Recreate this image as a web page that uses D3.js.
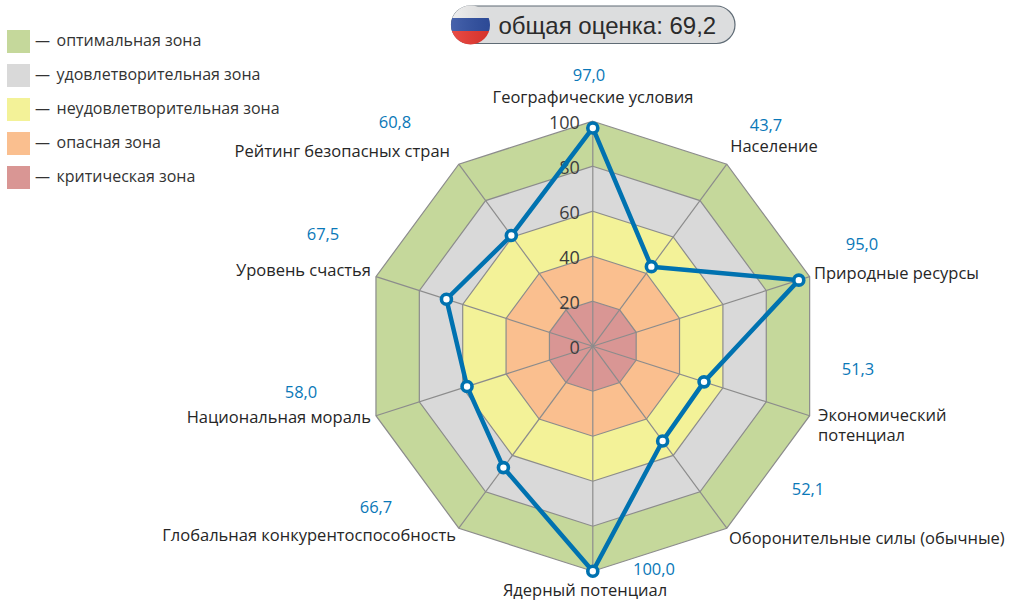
<!DOCTYPE html>
<html><head><meta charset="utf-8">
<script src="https://cdn.jsdelivr.net/npm/d3@7"></script>
<style>html,body{margin:0;background:#fff}svg{display:block}text{font-family:"Open Sans",sans-serif}</style>
</head><body><div id="c"></div>
<script>
const categories=["Географические условия","Население","Природные ресурсы","Экономический\nпотенциал","Оборонительные силы (обычные)","Ядерный потенциал","Глобальная конкурентоспособность","Национальная мораль","Уровень счастья","Рейтинг безопасных стран"];
const values=[97.0,43.7,95.0,51.3,52.1,100.0,66.7,58.0,67.5,60.8];
const valueLabels=["97,0","43,7","95,0","51,3","52,1","100,0","66,7","58,0","67,5","60,8"];
const ticks=[0,20,40,60,80,100];
const zoneNames=["оптимальная зона","удовлетворительная зона","неудовлетворительная зона","опасная зона","критическая зона"];
const zoneColors=["#c5d89b","#d9d9d9","#f3f298","#fabf8f","#d99694"];
const zoneTops=[100,80,60,40,20];
const totalLabel="общая оценка: 69,2";
// layout only
const catPos=[[593,103,"middle"],[774,152,"middle"],[814,279,"start"],[818,421,"start"],[729,544,"start"],[585,596,"middle"],[456,541,"end"],[371,423,"end"],[371,276,"end"],[450,157,"end"]];
const valPos=[[589,81],[766,131],[862,250],[858,375],[808,495],[654,575],[376,513],[301,398],[323,240],[395,128]];

const W=1012,H=601,cx=592.8,cy=346.2;
const svg=d3.select("#c").append("svg").attr("width",W).attr("height",H);
const rx=d3.scaleLinear().domain([0,100]).range([0,228]);
const ry=d3.scaleLinear().domain([0,100]).range([0,225]);
const ang=d3.scalePoint().domain(d3.range(categories.length)).range([0,2*Math.PI*0.9]);
const px=(v,k)=>rx(v)*Math.sin(ang(k));
const py=(v,k)=>-ry(v)*Math.cos(ang(k));
const g=svg.append("g").attr("transform",`translate(${cx},${cy})`);
const line=d3.line().curve(d3.curveLinearClosed);

zoneTops.forEach((t,i)=>{
  g.append("path").attr("d",line(categories.map((_,k)=>[px(t,k),py(t,k)])))
   .attr("fill",zoneColors[i]).attr("stroke","#8c8c8c").attr("stroke-width",1.2);
});
categories.forEach((_,k)=>{
  g.append("line").attr("x1",0).attr("y1",0).attr("x2",px(100,k)).attr("y2",py(100,k))
   .attr("stroke","#8c8c8c").attr("stroke-width",1.2);
});
ticks.forEach(t=>{
  g.append("text").attr("x",-13).attr("y",-ry(t)+8).attr("text-anchor","end")
   .attr("font-size",18).attr("fill","#3c3c3c").text(t);
});
g.append("path").attr("d",line(values.map((v,k)=>[px(v,k),py(v,k)])))
 .attr("fill","none").attr("stroke","#0072b0").attr("stroke-width",4.5).attr("stroke-linejoin","round");
values.forEach((v,k)=>{
  g.append("circle").attr("cx",px(v,k)).attr("cy",py(v,k)).attr("r",5)
   .attr("fill","#fff").attr("stroke","#0072b0").attr("stroke-width",3.6);
});
categories.forEach((c,k)=>{
  const [x,y,an]=catPos[k];
  c.split("\n").forEach((l,j)=>svg.append("text").attr("x",x).attr("y",y+j*20).attr("text-anchor",an)
    .attr("font-size",16.5).attr("fill","#262626").text(l));
});
valueLabels.forEach((v,k)=>{
  svg.append("text").attr("x",valPos[k][0]).attr("y",valPos[k][1]).attr("text-anchor","middle")
   .attr("font-size",16.5).attr("fill","#0a78b8").text(v);
});
// legend
zoneNames.forEach((n,i)=>{
  const y=30+i*34;
  svg.append("rect").attr("x",7).attr("y",y).attr("width",23).attr("height",23).attr("fill",zoneColors[i]);
  svg.append("text").attr("x",35).attr("y",y+16).attr("font-size",15).attr("fill","#333").text("—");
  svg.append("text").attr("x",56.5).attr("y",y+16).attr("font-size",16).attr("fill","#333").text(n);
});
// pill
const defs=svg.append("defs");
const pillG=defs.append("linearGradient").attr("id","shine").attr("x1",0).attr("y1",0).attr("x2",1).attr("y2",0);
pillG.append("stop").attr("offset",0).attr("stop-color","#fff").attr("stop-opacity",.12);
pillG.append("stop").attr("offset",1).attr("stop-color","#000").attr("stop-opacity",.08);
defs.append("clipPath").attr("id","flag").append("circle").attr("cx",470.5).attr("cy",25).attr("r",19.5);
svg.append("rect").attr("x",451.5).attr("y",6).attr("width",283.5).attr("height",37.5).attr("rx",18.7)
 .attr("fill","#dcddde").attr("stroke","#5f6b75").attr("stroke-width",1.2);
const f=svg.append("g").attr("clip-path","url(#flag)");
[["#eeeeee",5],["#2f4fa2",18],["#e8362f",31]].forEach(([c,y])=>f.append("rect").attr("x",450).attr("y",y).attr("width",42).attr("height",y==5?13:y==18?13:14).attr("fill",c));
f.append("rect").attr("x",450).attr("y",5).attr("width",42).attr("height",40).attr("fill","url(#shine)");
svg.append("text").attr("x",498.5).attr("y",33.5).attr("font-size",24).attr("fill","#2b2b2b")
 .style("font-family","'Liberation Sans',sans-serif").text(totalLabel);
</script></body></html>
